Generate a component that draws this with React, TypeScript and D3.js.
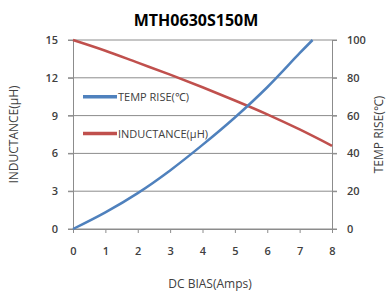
import React, { useEffect, useRef } from 'react';
import * as d3 from 'd3';

// DC bias (A) and the two curves
const inductanceX = [0, 1, 2, 3, 4, 5, 6, 7, 8];
const inductance = [15, 14.15, 13.2, 12.25, 11.25, 10.2, 9.1, 7.9, 6.6];
const tempX = [0, 1, 2, 3, 4, 5, 6, 7, 7.4];
const tempRise = [0, 8.8, 19, 31, 44.5, 59, 75, 93, 100];

const xTicks = [0, 1, 2, 3, 4, 5, 6, 7, 8];
const leftTicks = [0, 3, 6, 9, 12, 15];
const rightTicks = [0, 20, 40, 60, 80, 100];

const BLUE = '#4f81bd';
const RED = '#c0504d';
const TEXT = '#404040';
const FONT = '"Open Sans", "Liberation Sans", sans-serif';

const App = () => {
    const svgRef = useRef<SVGSVGElement>(null);

    useEffect(() => {
        const width = 390;
        const height = 291;
        const margin = { top: 40, right: 58, bottom: 62, left: 73 };
        const innerWidth = width - margin.left - margin.right;
        const innerHeight = height - margin.top - margin.bottom;

        const root = d3.select(svgRef.current);
        root.selectAll('*').remove();
        root.attr('width', width).attr('height', height);

        root.append('rect').attr('width', width).attr('height', height).attr('fill', '#fff');

        const svg = root.append('g').attr('transform', `translate(${margin.left},${margin.top})`);

        const x = d3.scaleLinear().domain([0, 8]).range([0, innerWidth]);
        const yL = d3.scaleLinear().domain([0, 15]).range([innerHeight, 0]);
        const yR = d3.scaleLinear().domain([0, 100]).range([innerHeight, 0]);

        // gridlines
        svg.append('g')
            .selectAll('line')
            .data(leftTicks)
            .enter()
            .append('line')
            .attr('x1', -5)
            .attr('x2', innerWidth + 5)
            .attr('y1', d => yL(d))
            .attr('y2', d => yL(d))
            .attr('stroke', '#8c8c8c')
            .attr('stroke-width', 1);

        // axes
        const axisStyle = (g: any) => {
            g.select('.domain').attr('stroke', '#8c8c8c');
            g.selectAll('.tick line').attr('stroke', '#8c8c8c');
            g.selectAll('.tick text')
                .attr('fill', TEXT)
                .style('font-family', FONT)
                .style('font-size', '11px')
                .style('font-weight', '600');
        };

        svg.append('g')
            .attr('transform', `translate(0,${innerHeight})`)
            .call(d3.axisBottom(x).tickValues(xTicks).tickSize(4).tickPadding(14).tickSizeOuter(0))
            .call(axisStyle);

        svg.append('g')
            .call(d3.axisLeft(yL).tickValues(leftTicks).tickSize(5).tickPadding(10).tickSizeOuter(0))
            .call(axisStyle);

        svg.append('g')
            .attr('transform', `translate(${innerWidth},0)`)
            .call(d3.axisRight(yR).tickValues(rightTicks).tickSize(5).tickPadding(10).tickSizeOuter(0))
            .call(axisStyle);

        // lines
        const indLine = d3.line<number>()
            .x((_, i) => x(inductanceX[i]))
            .y(d => yL(d))
            .curve(d3.curveCatmullRom);

        const tempLine = d3.line<number>()
            .x((_, i) => x(tempX[i]))
            .y(d => yR(d))
            .curve(d3.curveCatmullRom);

        // legend
        const legend = svg.append('g').attr('transform', `translate(10, 0)`);
        const items = [
            { label: 'TEMP RISE(℃)', color: BLUE, y: yR(70) },
            { label: 'INDUCTANCE(μH)', color: RED, y: yR(50.5) }
        ];
        items.forEach(it => {
            legend.append('line')
                .attr('x1', 0)
                .attr('x2', 34)
                .attr('y1', it.y)
                .attr('y2', it.y)
                .attr('stroke', it.color)
                .attr('stroke-width', 3.5);
            legend.append('text')
                .attr('x', 35)
                .attr('y', it.y + 4)
                .attr('fill', TEXT)
                .style('font-family', FONT)
                .style('font-size', '11px')
                .style('font-weight', '500')
                .text(it.label);
        });

        svg.append('path')
            .datum(inductance)
            .attr('d', indLine)
            .attr('fill', 'none')
            .attr('stroke', RED)
            .attr('stroke-width', 2.5);

        svg.append('path')
            .datum(tempRise)
            .attr('d', tempLine)
            .attr('fill', 'none')
            .attr('stroke', BLUE)
            .attr('stroke-width', 2.5);

        // titles
        root.append('text')
            .attr('x', 196)
            .attr('y', 26)
            .attr('text-anchor', 'middle')
            .attr('fill', '#000')
            .style('font-family', FONT)
            .style('font-size', '16px')
            .style('font-weight', 'bold')
            .text('MTH0630S150M');

        root.append('text')
            .attr('transform', `translate(18,${margin.top + innerHeight / 2}) rotate(-90)`)
            .attr('text-anchor', 'middle')
            .attr('fill', TEXT)
            .style('font-family', FONT)
            .style('font-size', '12px')
            .text('INDUCTANCE(μH)');

        root.append('text')
            .attr('transform', `translate(383,${margin.top + innerHeight / 2}) rotate(-90)`)
            .attr('text-anchor', 'middle')
            .attr('fill', TEXT)
            .style('font-family', FONT)
            .style('font-size', '12px')
            .text('TEMP RISE(℃)');

        root.append('text')
            .attr('x', 210)
            .attr('y', 288)
            .attr('text-anchor', 'middle')
            .attr('fill', TEXT)
            .style('font-family', FONT)
            .style('font-size', '12px')
            .text('DC BIAS(Amps)');
    }, []);

    return (
        <div style={{ position: 'absolute', left: 0, top: 0 }}>
            <svg ref={svgRef} style={{ display: 'block' }}></svg>
        </div>
    );
};

export default App;
